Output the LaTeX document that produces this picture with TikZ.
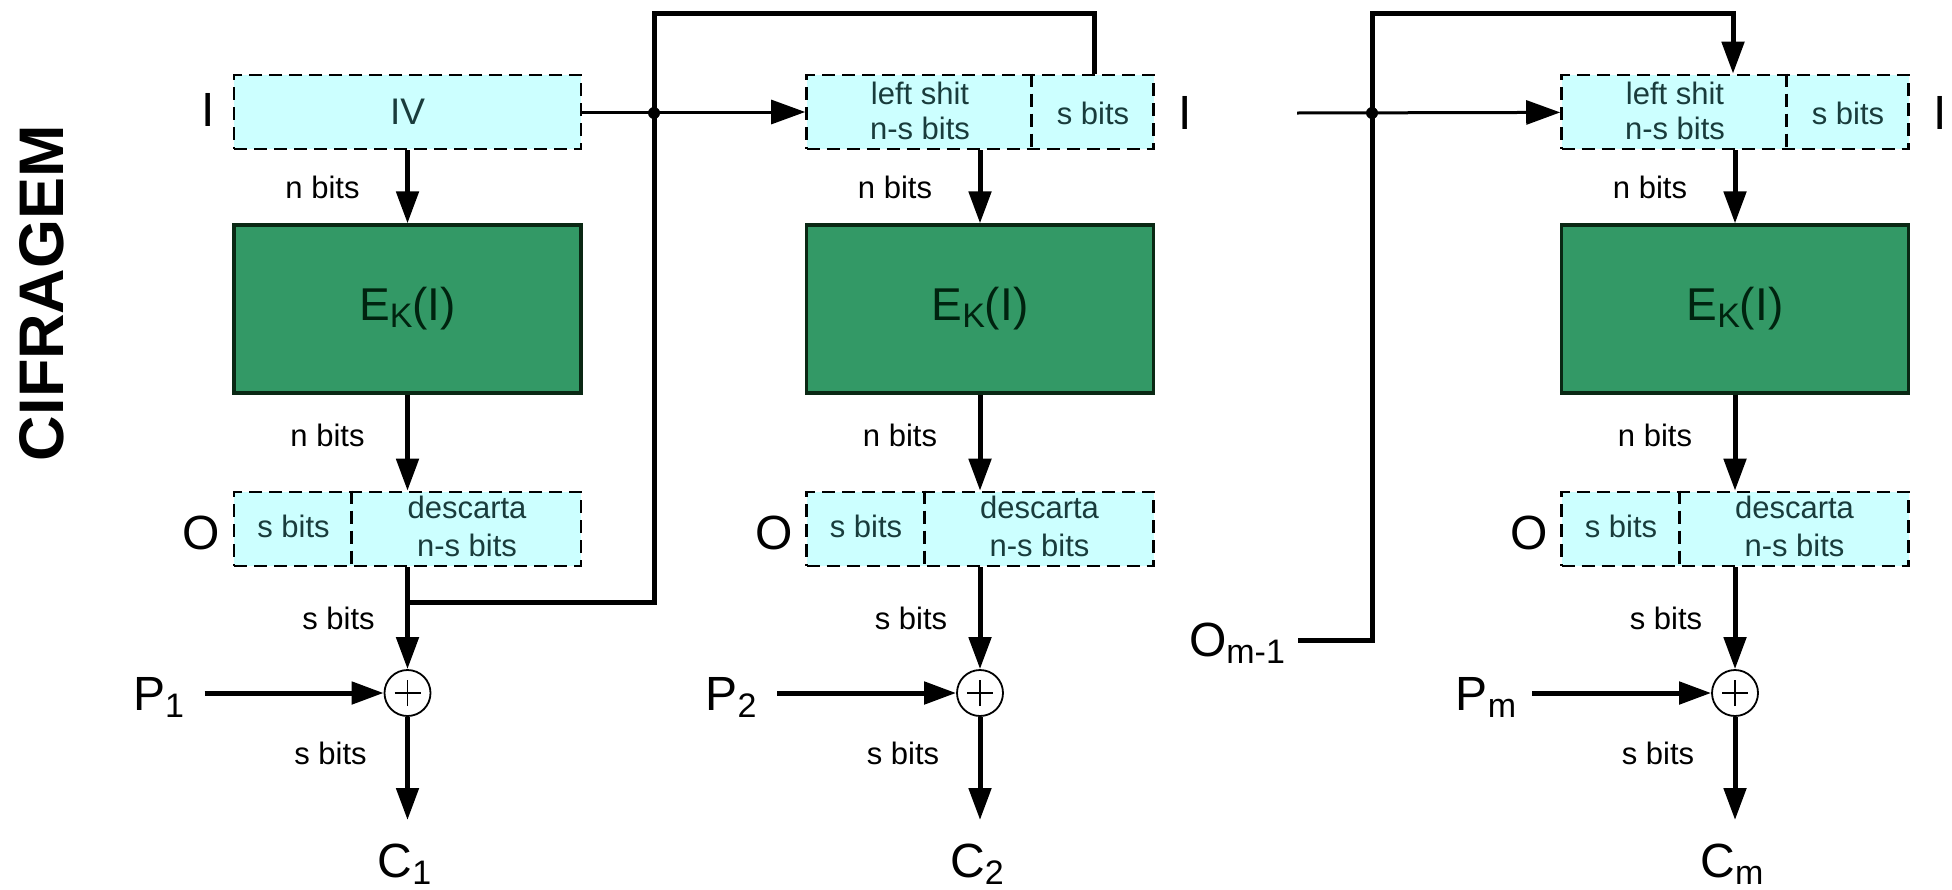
\documentclass[tikz,border=0pt]{standalone}
\usepackage{fontspec}
\setmainfont{Liberation Sans}
\usetikzlibrary{arrows.meta}
\definecolor{cyanfill}{RGB}{204,255,255}
\definecolor{encgreen}{RGB}{51,153,102}
\definecolor{encborder}{RGB}{10,40,20}
\definecolor{boxtext}{RGB}{25,60,60}
\definecolor{enctext}{RGB}{0,35,15}
\newcommand\lowsub[1]{\raisebox{-3.5pt}{\fontsize{17}{17}\selectfont #1}}
\begin{document}
\begin{tikzpicture}[x=0.5pt,y=-0.5pt,
  reg/.style={draw=black, dash pattern=on 6.5pt off 3.5pt, line width=1.3pt, fill=cyanfill,
    minimum width=173.5pt, minimum height=37pt, inner sep=0pt},
  divider/.style={draw=black, dash pattern=on 6.5pt off 3.5pt, line width=1.3pt},
  enc/.style={draw=encborder, line width=1.6pt, fill=encgreen, minimum width=173.5pt,
    minimum height=84pt, inner sep=0pt, text=enctext, font=\fontsize{23}{27}\selectfont},
  small/.style={font=\fontsize{15.5}{17.5}\selectfont, inner sep=0pt, align=center},
  intext/.style={small, text=boxtext},
  twoline/.style={intext, font=\fontsize{15.5}{17.5}\selectfont},
  twolineO/.style={intext, font=\fontsize{15.5}{19}\selectfont},
  big/.style={font=\fontsize{24}{28}\selectfont, inner sep=0pt},
  flow/.style={line width=2.5pt, -{Triangle[length=16pt,width=11pt]}},
  thinflow/.style={line width=1.5pt, -{Triangle[length=17pt,width=12pt]}},
  heavy/.style={line width=2.5pt},
  xor/.style={circle, draw=black, line width=0.9pt, minimum size=23pt, inner sep=0pt, fill=white},
]
\useasboundingbox (0,0) rectangle (1952,889);

% title
\node[rotate=90, inner sep=0pt, font=\bfseries\fontsize{31.5}{32}\selectfont] (title) at (42,293) {CIFRAGEM};

% common parts of the three stages
\foreach \i/\c/\s in {1/407.5/1,2/980/2,3/1735/m}{
  \node[reg] (top\i) at (\c,112) {};
  \node[enc] (enc\i) at (\c,309) {E\lowsub{K}(I)};
  \node[reg] (o\i) at (\c,529) {};
  \draw[divider] ([xshift=59.5pt]o\i.north west) -- ([xshift=59.5pt]o\i.south west);
  \node[intext] (os\i) at ({\c-114},526) {s bits};
  \node[twolineO] (od\i) at ({\c+59.5},526) {descarta\\n-s bits};
  \node[big] (olab\i) at ({\c-206},533) {O};
  \node[small] (nb\i) at ({\c-85},187) {n bits};
  \node[small] (nbb\i) at ({\c-80},435) {n bits};
  \node[small] (sb\i) at ({\c-69},618) {s bits};
  \node[small] (sbb\i) at ({\c-77},753) {s bits};
  \node[xor] (x\i) at (\c,693) {};
  \draw[line width=0.9pt] ([yshift=-6.5pt]x\i.center) -- ([yshift=6.5pt]x\i.center);
  \draw[line width=0.9pt] ([xshift=-6.5pt]x\i.center) -- ([xshift=6.5pt]x\i.center);
  \node[big] (p\i) at ({\c-249},697) {P\lowsub{\s}};
  \coordinate (ps\i) at ({\c-203},693);
  \node[big] (cl\i) at ({\c-3},864) {C\lowsub{\s}};
  \coordinate (ce\i) at (\c,820);
  \draw[flow] (top\i) -- (enc\i);
  \draw[flow] (enc\i) -- (o\i);
  \draw[flow] (o\i) -- (x\i);
  \draw[flow] (ps\i) -- (x\i);
  \draw[flow] (x\i) -- (ce\i);
}

% first stage register
\node[intext, font=\fontsize{18.5}{20}\selectfont] (iv) at (top1) {IV};
\node[big] (ilab1) at (208,110) {I};

% stages 2 and 3 registers
\foreach \i/\c in {2/980,3/1735}{
  \draw[divider] ([xshift=113pt]top\i.north west) -- ([xshift=113pt]top\i.south west);
  \node[twoline] (ls\i) at ({\c-60},110.5) {left shit\\n-s bits};
  \node[intext] (rs\i) at ({\c+113},113) {s bits};
  \node[big] (ilab\i) at ({\c+205},113) {I};
}

% feedback from stage 1 to stage 2
\coordinate (fb1) at (407.5,602);
\coordinate (j1) at (654,113);
\coordinate (tl1) at (654,13);
\coordinate (tr1) at (1094,13);
\draw[heavy] (fb1) -| (tl1) -- (tr1) -- (tr1 |- top2.north);
\draw[thinflow] (top1) -- (top2);
\fill (j1) circle (3pt);

% feedback into stage m
\node[big] (om) at (1237,643) {O\lowsub{m-1}};
\coordinate (oms) at (1298,640);
\coordinate (j3) at (1372,113);
\coordinate (tl3) at (1372,13);
\coordinate (tr3) at (1733,13);
\coordinate (in3) at (1297,113);
\draw[flow] (oms) -| (tl3) -- (tr3) -- (tr3 |- top3.north);
\draw[thinflow] (in3) -- (top3);
\fill (j3) circle (3pt);
\end{tikzpicture}
\end{document}
